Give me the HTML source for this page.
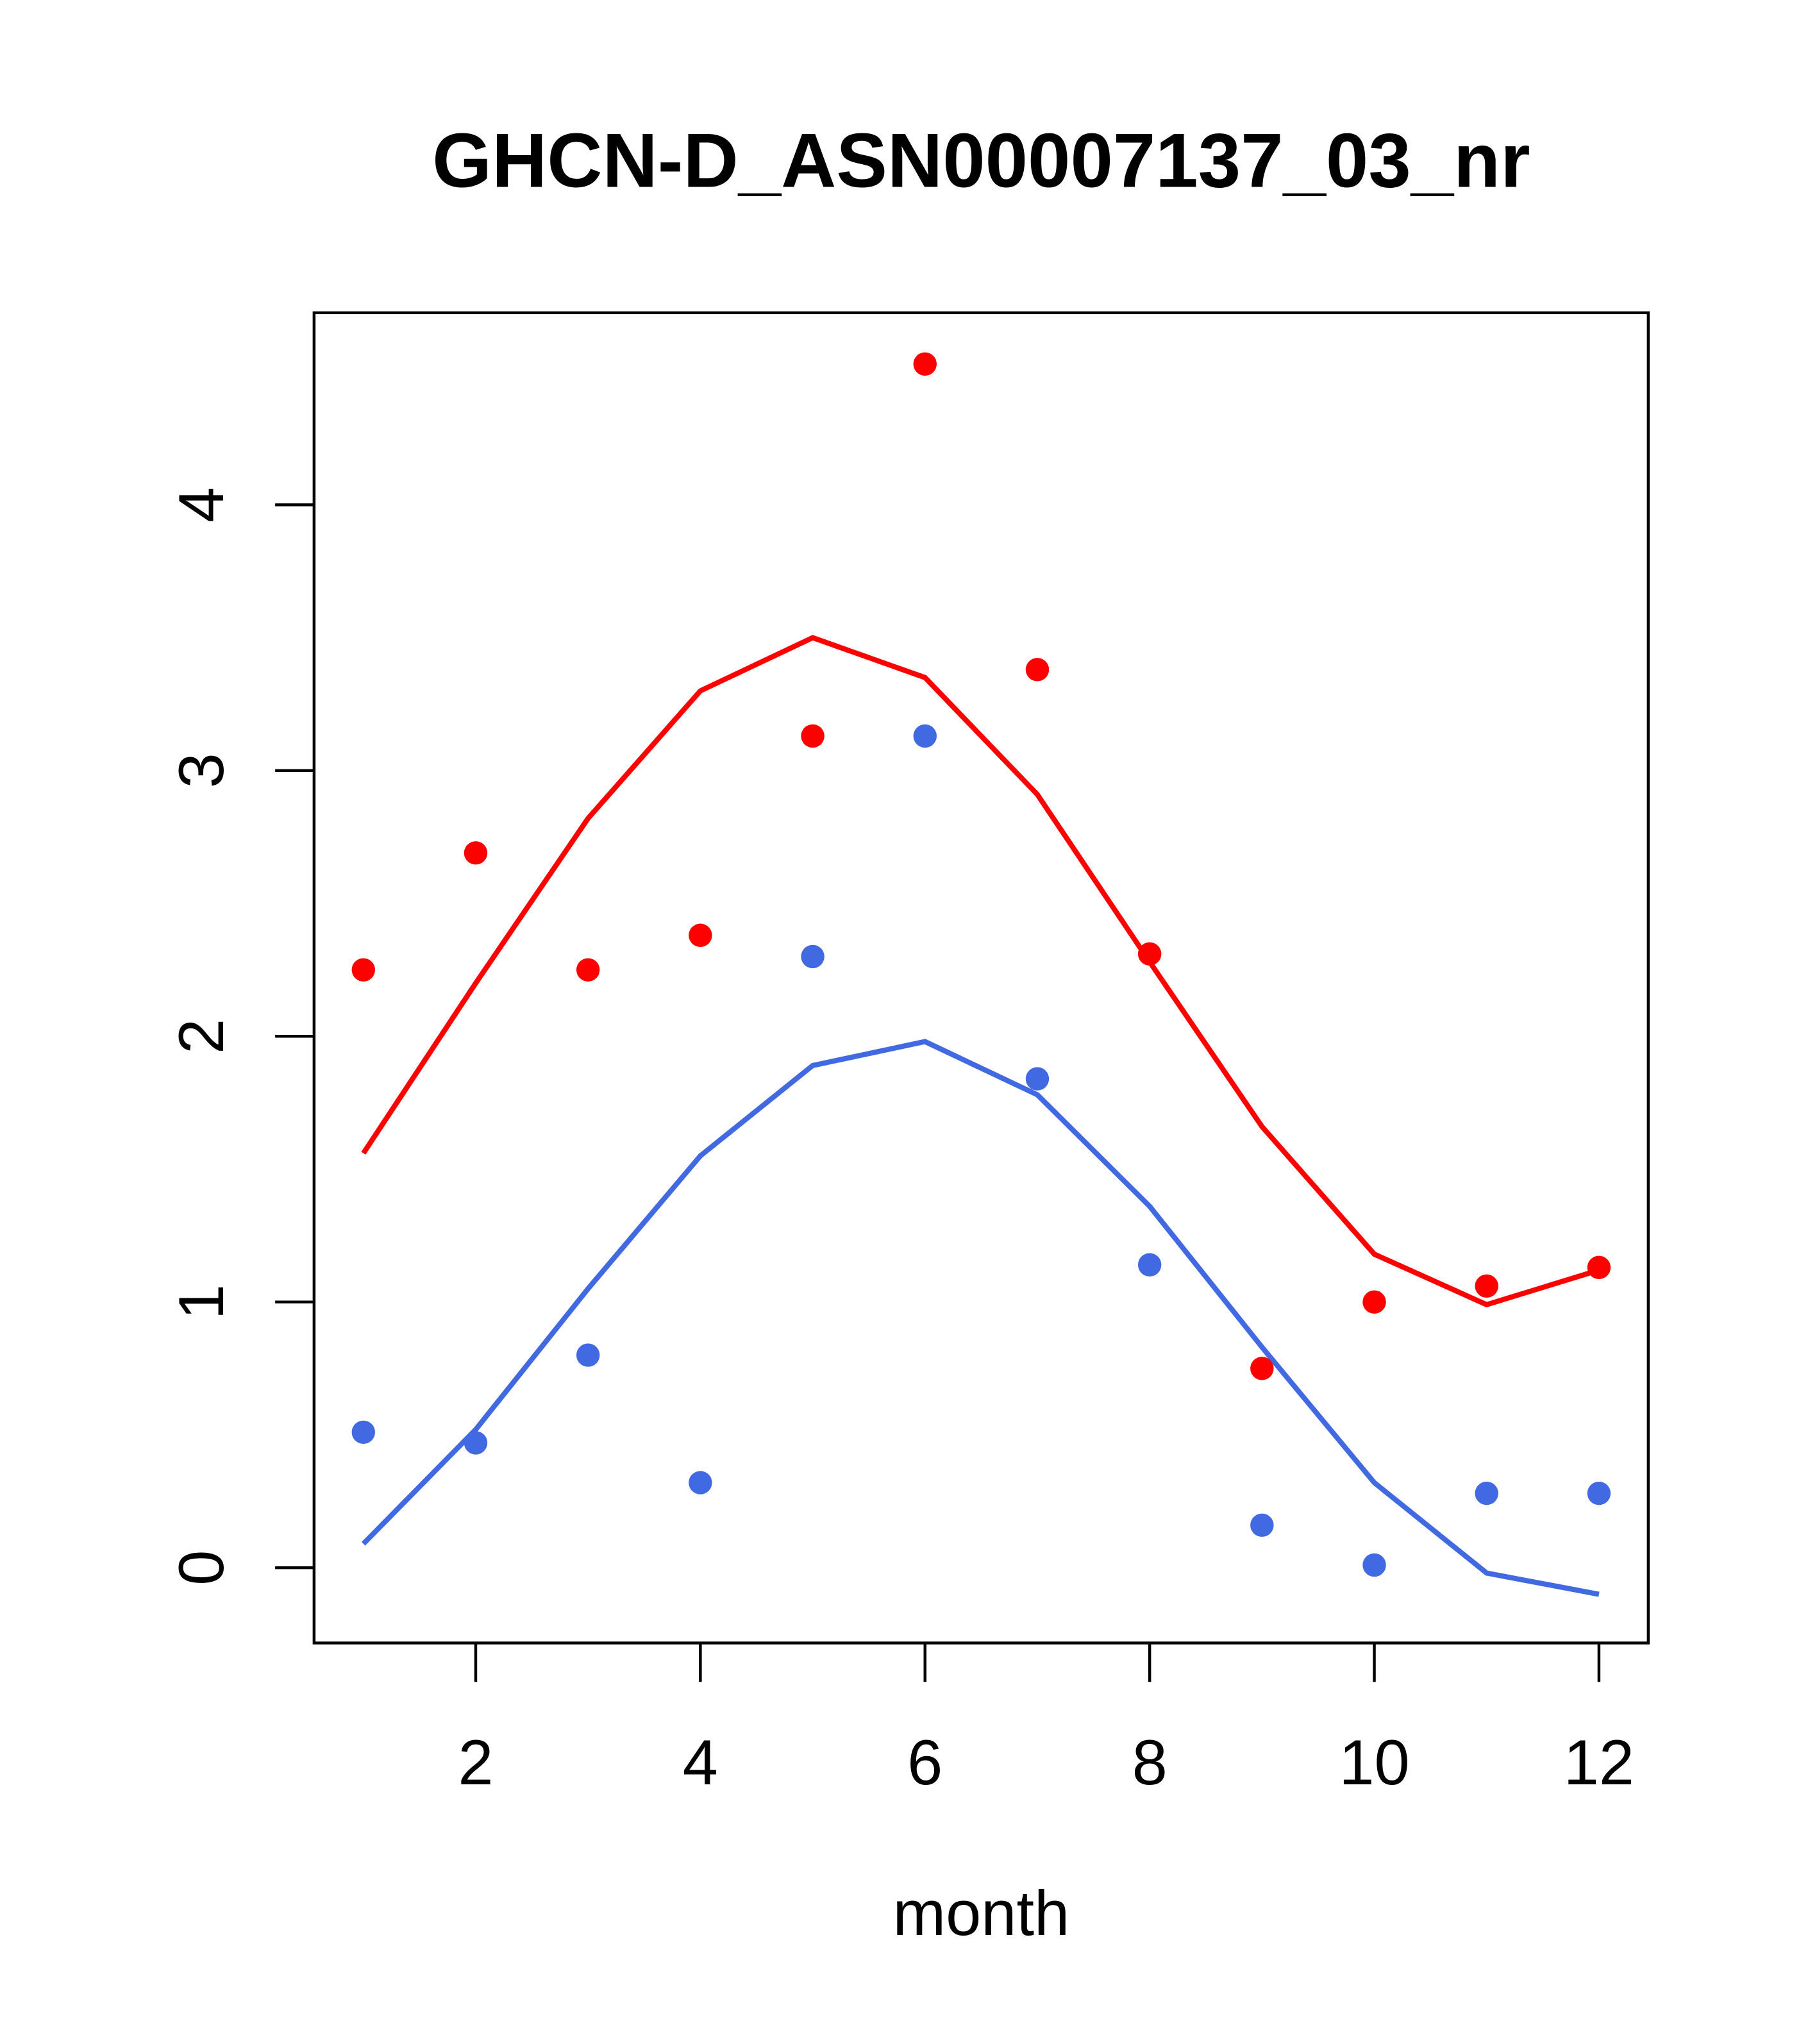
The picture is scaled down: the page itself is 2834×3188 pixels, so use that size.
<!DOCTYPE html>
<html><head><meta charset="utf-8"><style>
html,body{margin:0;padding:0;background:#fff;}
svg{display:block;}
text{font-family:"Liberation Sans",Arial,sans-serif;}
</style></head><body>
<svg id="chart" xmlns="http://www.w3.org/2000/svg" width="2834" height="3188" viewBox="0 0 1400 1575" preserveAspectRatio="none">
<rect width="1400" height="1575" fill="#fff"/>
<text x="756" y="144" font-size="59" font-weight="bold" text-anchor="middle">GHCN-D_ASN00007137_03_nr</text>
<rect x="242" y="241" width="1028" height="1025" fill="none" stroke="#000" stroke-width="2.2"/>
<text x="756" y="1491" font-size="49" text-anchor="middle">month</text>
<g id="xaxis"></g>
<g id="yaxis"></g>
<g id="series"></g>
</svg>
<script>
const months = [1,2,3,4,5,6,7,8,9,10,11,12];
const redPoints = [2.25,2.69,2.25,2.38,3.13,4.53,3.38,2.31,0.75,1.0,1.06,1.13];
const redLine = [1.56,2.2,2.82,3.30,3.50,3.35,2.91,2.28,1.66,1.18,0.99,1.12];
const bluePoints = [0.51,0.47,0.80,0.32,2.30,3.13,1.84,1.14,0.16,0.01,0.28,0.28];
const blueLine = [0.09,0.52,1.05,1.55,1.89,1.98,1.78,1.36,0.83,0.32,-0.02,-0.10];
const xTicks = [2,4,6,8,10,12];
const yTicks = [0,1,2,3,4];

const NS = "http://www.w3.org/2000/svg";
function x(m){ return 280 + (m-1)*(1232-280)/11; }
function y(v){ return 1208 - v*(1208-389)/4; }
function mk(tag, attrs, parent){
  const e = document.createElementNS(NS, tag);
  for (const k in attrs) e.setAttribute(k, attrs[k]);
  parent.appendChild(e);
  return e;
}
const xa = document.getElementById('xaxis');
xTicks.forEach(t=>{
  const l = mk('line',{x1:x(t),x2:x(t),y1:1266,y2:1296,stroke:'#000','stroke-width':2.2},xa);
  
  
  const tx = mk('text',{x:x(t),y:1375,'font-size':49,'text-anchor':'middle'},xa);
  tx.textContent = t;
  
  
});
const ya = document.getElementById('yaxis');
yTicks.forEach(t=>{
  const l = mk('line',{x1:212,x2:242,y1:y(t),y2:y(t),stroke:'#000','stroke-width':2.2},ya);
  
  
  const tx = mk('text',{x:0,y:0,'font-size':49,'text-anchor':'middle',transform:`translate(172,${y(t)}) rotate(-90)`},ya);
  tx.textContent = t;
  
  
});
const sg = document.getElementById('series');
function line(vals,color,name){
  const p = mk('polyline',{points:vals.map((v,i)=>x(months[i])+','+y(v)).join(' '),fill:'none',stroke:color,'stroke-width':4},sg);
  
  
}
function pts(vals,color,name){
  vals.forEach((v,i)=>{
    const c = mk('circle',{cx:x(months[i]),cy:y(v),r:9,fill:color},sg);
    
    
  });
}
line(redLine,'#ff0000','red-fit-line');
line(blueLine,'#4169e1','blue-fit-line');
pts(redPoints,'#ff0000','red-point');
pts(bluePoints,'#4169e1','blue-point');
</script>
</body></html>
